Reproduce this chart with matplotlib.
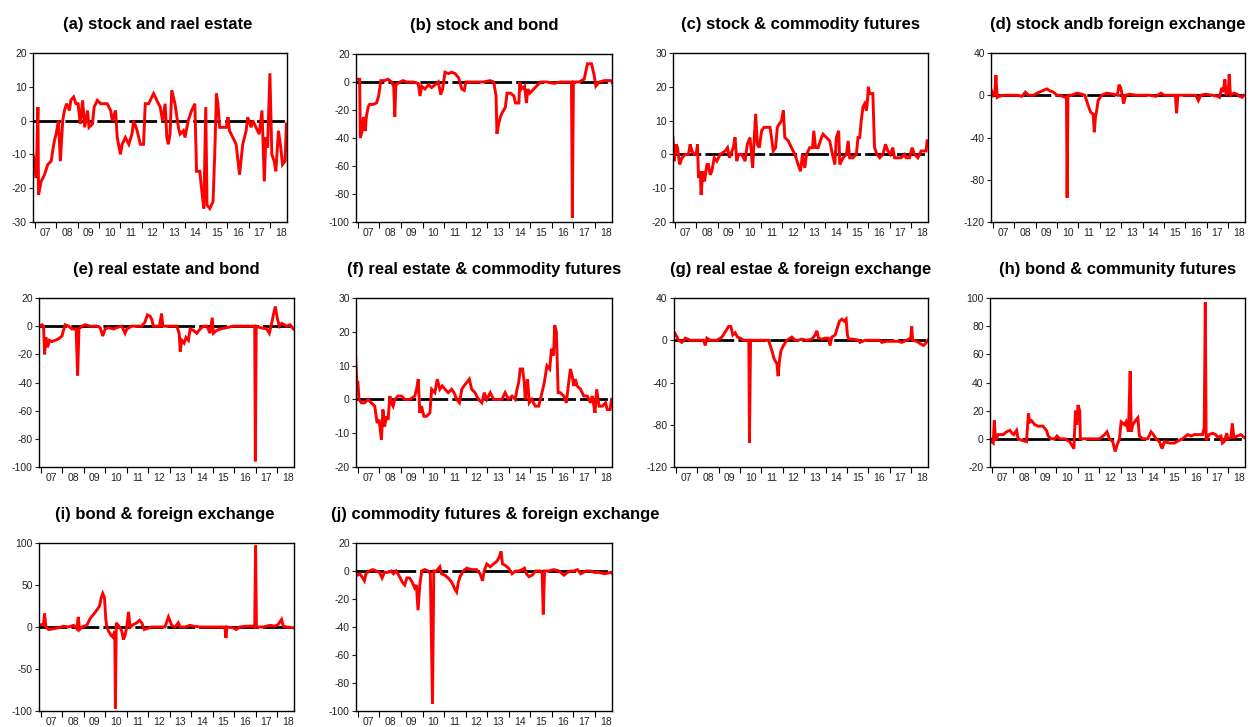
import matplotlib
matplotlib.use("Agg")
import matplotlib.pyplot as plt
from matplotlib.ticker import FixedLocator, NullFormatter, FixedFormatter

plt.rcParams['font.family'] = ['Liberation Sans', 'DejaVu Sans']
plt.rcParams['axes.unicode_minus'] = False

# ---------------- data (decimal years, values) ----------------
t_a = [2006.91, 2006.98, 2007.06, 2007.14, 2007.17, 2007.29, 2007.45, 2007.60, 2007.76, 2007.83, 2007.91, 2007.99,
       2008.10, 2008.19, 2008.30, 2008.38, 2008.48, 2008.61, 2008.68, 2008.81, 2008.92, 2009.02, 2009.12, 2009.23,
       2009.33, 2009.46, 2009.53, 2009.69, 2009.77, 2009.92, 2010.08, 2010.23, 2010.38, 2010.54, 2010.62, 2010.77,
       2010.85, 2011.00, 2011.08, 2011.23, 2011.39, 2011.54, 2011.62, 2011.78, 2011.93, 2012.08, 2012.16, 2012.32,
       2012.47, 2012.55, 2012.70, 2012.86, 2012.97, 2013.09, 2013.17, 2013.24, 2013.32, 2013.40, 2013.55, 2013.71,
       2013.79, 2013.94, 2014.02, 2014.17, 2014.33, 2014.48, 2014.56, 2014.71, 2014.79, 2014.90, 2014.99, 2015.05,
       2015.18, 2015.33, 2015.41, 2015.49, 2015.56, 2015.64, 2015.79, 2015.95, 2016.03, 2016.10, 2016.26, 2016.41,
       2016.57, 2016.72, 2016.88, 2016.95, 2017.11, 2017.19, 2017.34, 2017.49, 2017.62, 2017.73, 2017.80, 2017.88,
       2017.99, 2018.08, 2018.19, 2018.27, 2018.39, 2018.50, 2018.58, 2018.70, 2018.76]
v_a = [-10, -12, -17, 4, -22, -18, -16, -13, -12, -9, -6, -4,
       0, -12, 0, 3, 5, 3, 6, 7, 5, 5, -1, 6,
       -2, 3, -2, -1, 4, 6, 5, 5, 5, 3, 0, 3,
       -5, -10, -7, -5, -7, -4, 0, -3, -7, -7, 5, 5,
       7, 8, 6, 4, 0, 5, -5, -7, -4, 9, 5, -2,
       -4, -3, -5, 0, 3, 5, -15, -15, -20, -26, 4, -25,
       -26, -24, -10, 8, 5, -2, -2, -2, 1, -3, -5, -7,
       -16, -7, -3, 1, -2, 0, -2, -4, 3, -18, -5, -8,
       14, -10, -12, -15, -3, -8, -13, -12, -1]

t_b = [2006.89, 2007.08, 2007.11, 2007.19, 2007.26, 2007.34, 2007.39, 2007.47, 2007.54, 2007.70, 2007.86, 2007.96,
       2008.06, 2008.24, 2008.40, 2008.56, 2008.66, 2008.71, 2008.76, 2008.94, 2009.10, 2009.26, 2009.57, 2009.80,
       2009.88, 2009.96, 2010.11, 2010.27, 2010.42, 2010.58, 2010.73, 2010.84, 2010.93, 2011.04, 2011.20, 2011.35,
       2011.51, 2011.67, 2011.82, 2011.93, 2012.01, 2012.21, 2012.52, 2012.83, 2013.14, 2013.30, 2013.41, 2013.45,
       2013.53, 2013.61, 2013.69, 2013.77, 2013.84, 2013.92, 2014.08, 2014.24, 2014.31, 2014.47, 2014.51, 2014.59,
       2014.73, 2014.82, 2014.88, 2014.98, 2015.16, 2015.35, 2015.48, 2015.79, 2016.10, 2016.41, 2016.91, 2016.95,
       2017.00, 2017.26, 2017.50, 2017.65, 2017.84, 2017.96, 2018.04, 2018.20, 2018.43, 2018.74, 2018.82]
v_b = [2, 2, -40, -35, -25, -35, -25, -18, -16, -16, -15, -10,
       1, 1, 2, 0, -3, -25, -2, 0, 1, 0, 0, -1,
       -10, -3, -5, -2, -4, -2, 0, -9, -5, 7, 6, 7,
       6, 3, -5, -6, 0, 0, 0, 0, 1, 0, -10, -37,
       -30, -25, -22, -20, -18, -8, -8, -10, -15, -15, 0, -5,
       -3, -15, -5, -8, -5, -2, 0, 0, -1, 0, 0, -97,
       0, 0, 2, 13, 13, 5, -3, 0, 1, 1, -1]

t_c = [2006.91, 2006.97, 2007.06, 2007.12, 2007.22, 2007.33, 2007.48, 2007.63, 2007.71, 2007.79, 2007.90, 2007.99,
       2008.05, 2008.10, 2008.18, 2008.22, 2008.30, 2008.38, 2008.49, 2008.56, 2008.64, 2008.72, 2008.83, 2008.95,
       2009.11, 2009.34, 2009.45, 2009.54, 2009.72, 2009.80, 2009.88, 2009.96, 2010.11, 2010.27, 2010.37, 2010.50,
       2010.62, 2010.68, 2010.76, 2010.84, 2010.93, 2011.04, 2011.15, 2011.27, 2011.43, 2011.50, 2011.58, 2011.69,
       2011.77, 2011.86, 2011.97, 2012.05, 2012.12, 2012.28, 2012.43, 2012.59, 2012.74, 2012.85, 2012.94, 2013.05,
       2013.13, 2013.28, 2013.41, 2013.47, 2013.55, 2013.67, 2013.83, 2013.90, 2014.06, 2014.21, 2014.34, 2014.45,
       2014.52, 2014.63, 2014.68, 2014.83, 2014.99, 2015.07, 2015.14, 2015.29, 2015.45, 2015.53, 2015.61, 2015.68,
       2015.76, 2015.84, 2015.92, 2015.96, 2016.01, 2016.07, 2016.15, 2016.22, 2016.30, 2016.41, 2016.54, 2016.69,
       2016.81, 2016.92, 2017.03, 2017.15, 2017.23, 2017.39, 2017.54, 2017.70, 2017.77, 2017.93, 2018.05, 2018.16,
       2018.32, 2018.47, 2018.63, 2018.70, 2018.75]
v_c = [5, -2, 3, 2, -3, -1, 0, 0, 3, 1, 0, 0,
       3, -7, -5, -12, -5, -8, -3, -3, -6, -5, -1, -2,
       0, 1, 2, -1, 2, 5, -2, 0, 0, -2, 3, 5,
       -4, 3, 12, 3, 2, 7, 8, 8, 8, 5, 1, 2,
       8, 9, 10, 13, 5, 4, 2, 0, -3, -5, 0, -4,
       0, 2, 2, 7, 2, 2, 5, 6, 5, 4, 0, -3,
       5, 7, -3, -1, 0, 4, -1, -1, 0, 5, 5, 10,
       14, 15, 13, 15, 20, 18, 18, 18, 2, 0, -1, 0,
       3, 1, 0, 2, -1, -1, -1, 0, -1, -1, 2, 0,
       -1, 1, 1, 1, 4]

t_d = [2006.92, 2007.02, 2007.09, 2007.14, 2007.20, 2007.28, 2007.51, 2007.82, 2008.13, 2008.36, 2008.52, 2008.67,
       2008.90, 2009.06, 2009.29, 2009.52, 2009.68, 2009.83, 2009.99, 2010.14, 2010.37, 2010.44, 2010.47, 2010.51,
       2010.68, 2010.92, 2011.15, 2011.30, 2011.46, 2011.57, 2011.69, 2011.74, 2011.80, 2011.85, 2011.92, 2012.08,
       2012.31, 2012.62, 2012.82, 2012.90, 2012.98, 2013.05, 2013.11, 2013.21, 2013.39, 2013.70, 2014.01, 2014.32,
       2014.63, 2014.86, 2015.02, 2015.25, 2015.53, 2015.59, 2015.65, 2015.87, 2016.18, 2016.49, 2016.61, 2016.72,
       2016.95, 2017.26, 2017.50, 2017.60, 2017.70, 2017.77, 2017.85, 2017.91, 2018.01, 2018.05, 2018.11, 2018.27,
       2018.42, 2018.53, 2018.66, 2018.73]
v_d = [5, 0, 2, 19, -2, -1, 0, 0, 0, -1, 3, 0,
       0, 2, 4, 6, 4, 3, 0, 0, -2, -2, -97, 0,
       0, 2, 1, 0, -10, -16, -18, -35, -20, -15, -5, 0,
       2, 1, 0, 10, 7, 0, -8, 0, 1, 0, 0, 0,
       -1, 2, 0, 0, 0, -17, 0, 0, 0, 0, -5, 0,
       1, 0, -1, -2, 7, 3, 15, 0, 3, 20, 0, 2,
       1, -1, -2, 0]

t_e = [2006.92, 2007.05, 2007.12, 2007.17, 2007.23, 2007.31, 2007.40, 2007.51, 2007.67, 2007.82, 2007.98, 2008.05,
       2008.13, 2008.29, 2008.44, 2008.64, 2008.71, 2008.77, 2008.91, 2009.06, 2009.29, 2009.60, 2009.76, 2009.88,
       2009.99, 2010.15, 2010.38, 2010.53, 2010.77, 2010.92, 2011.00, 2011.23, 2011.47, 2011.70, 2011.85, 2011.96,
       2012.09, 2012.16, 2012.24, 2012.40, 2012.52, 2012.62, 2012.68, 2012.86, 2013.17, 2013.33, 2013.44, 2013.49,
       2013.56, 2013.67, 2013.76, 2013.87, 2013.95, 2014.10, 2014.26, 2014.42, 2014.57, 2014.73, 2014.88, 2014.98,
       2015.04, 2015.19, 2015.35, 2015.66, 2015.97, 2016.28, 2016.59, 2016.90, 2016.96, 2016.99, 2017.03, 2017.21,
       2017.52, 2017.64, 2017.75, 2017.83, 2017.92, 2018.02, 2018.11, 2018.22, 2018.45, 2018.61, 2018.76]
v_e = [0, 1, 0, -20, -8, -15, -10, -11, -10, -9, -7, -3,
       1, 0, -2, -2, -35, -2, 0, 1, 0, 0, -1, -7,
       -2, -1, -2, -1, 0, -5, -2, 0, 0, 0, 3, 8,
       7, 5, 0, 0, 0, 9, 0, 0, 0, 0, -5, -18,
       -10, -12, -8, -10, -2, -3, -5, -2, 0, 0, -5, 6,
       -5, -3, -2, -1, 0, 0, 0, 0, -1, -96, 0, -1,
       -2, -5, 2, 8, 14, 5, 0, 2, 0, 1, -2]

t_f = [2006.89, 2006.95, 2007.00, 2007.05, 2007.16, 2007.31, 2007.47, 2007.62, 2007.78, 2007.89, 2007.98, 2008.09,
       2008.16, 2008.24, 2008.32, 2008.40, 2008.48, 2008.55, 2008.63, 2008.71, 2008.86, 2009.02, 2009.17, 2009.41,
       2009.64, 2009.72, 2009.80, 2009.87, 2009.95, 2010.06, 2010.18, 2010.34, 2010.42, 2010.57, 2010.68, 2010.80,
       2010.91, 2011.04, 2011.19, 2011.35, 2011.46, 2011.58, 2011.71, 2011.82, 2011.92, 2012.05, 2012.17, 2012.28,
       2012.43, 2012.59, 2012.75, 2012.86, 2012.98, 2013.14, 2013.29, 2013.52, 2013.68, 2013.83, 2013.99, 2014.15,
       2014.30, 2014.38, 2014.46, 2014.53, 2014.64, 2014.72, 2014.76, 2014.87, 2014.95, 2015.07, 2015.23, 2015.39,
       2015.54, 2015.65, 2015.77, 2015.90, 2015.98, 2016.08, 2016.13, 2016.21, 2016.29, 2016.39, 2016.55, 2016.67,
       2016.78, 2016.86, 2016.94, 2017.02, 2017.09, 2017.17, 2017.33, 2017.48, 2017.64, 2017.79, 2017.87, 2017.95,
       2018.00, 2018.08, 2018.19, 2018.34, 2018.49, 2018.57, 2018.70, 2018.77]
v_f = [13, 5, 5, 0, -1, -1, 0, -1, -2, -7, -6, -12,
       -3, -8, -5, -6, 1, -1, -2, 0, 1, 1, 0, 0,
       1, 3, 6, -4, -2, -5, -5, -4, 3, 2, 6, 3,
       4, 3, 2, 3, 2, 0, -1, 3, 4, 5, 6, 3,
       2, 0, -1, 2, 0, 2, 0, 0, 0, 2, 0, 1,
       0, 3, 5, 9, 9, 5, 0, 6, -1, 0, -2, -2,
       2, 5, 10, 9, 15, 13, 22, 20, 2, 2, 1, -1,
       5, 9, 7, 4, 6, 4, 3, 1, 1, -1, 1, -2,
       -4, 3, -2, -2, -1, -3, -3, 0]

t_g = [2006.94, 2007.05, 2007.12, 2007.28, 2007.44, 2007.67, 2007.98, 2008.29, 2008.37, 2008.45, 2008.60, 2008.92,
       2009.15, 2009.31, 2009.46, 2009.57, 2009.66, 2009.77, 2009.88, 2010.01, 2010.16, 2010.32, 2010.41, 2010.44,
       2010.49, 2010.71, 2010.94, 2011.17, 2011.33, 2011.49, 2011.60, 2011.72, 2011.78, 2011.84, 2011.91, 2012.03,
       2012.19, 2012.42, 2012.58, 2012.73, 2012.89, 2013.12, 2013.36, 2013.51, 2013.59, 2013.67, 2013.82, 2013.98,
       2014.13, 2014.21, 2014.29, 2014.45, 2014.52, 2014.65, 2014.76, 2014.87, 2014.96, 2015.02, 2015.08, 2015.30,
       2015.54, 2015.61, 2015.85, 2016.24, 2016.55, 2016.63, 2016.86, 2017.17, 2017.40, 2017.56, 2017.79, 2017.98,
       2018.03, 2018.07, 2018.26, 2018.41, 2018.57, 2018.68, 2018.78]
v_g = [7, 3, 0, -2, 2, 0, 0, 0, -5, 2, 0, 0,
       3, 8, 13, 13, 5, 7, 3, 2, 0, 0, 0, -97,
       0, 0, 0, 0, 0, -10, -18, -22, -34, -20, -10, -5,
       0, 3, 0, 0, 1, 0, 1, 5, 9, 2, 1, 2,
       2, -5, 3, 5, 10, 18, 20, 18, 20, 5, 1, 1,
       0, -2, 0, 0, 0, -2, -1, -1, -1, -2, 0, 2,
       13, 0, -1, -3, -5, -3, 0]

t_h = [2006.91, 2006.98, 2007.06, 2007.11, 2007.17, 2007.29, 2007.53, 2007.68, 2007.84, 2007.94, 2008.02, 2008.15,
       2008.22, 2008.38, 2008.61, 2008.70, 2008.76, 2008.84, 2009.00, 2009.15, 2009.38, 2009.54, 2009.62, 2009.77,
       2009.93, 2010.03, 2010.16, 2010.39, 2010.62, 2010.82, 2010.89, 2010.95, 2011.01, 2011.09, 2011.12, 2011.40,
       2011.71, 2012.02, 2012.25, 2012.36, 2012.48, 2012.63, 2012.74, 2012.84, 2012.94, 2013.02, 2013.18, 2013.25,
       2013.36, 2013.44, 2013.49, 2013.56, 2013.69, 2013.80, 2013.87, 2014.03, 2014.26, 2014.41, 2014.52, 2014.65,
       2014.80, 2014.93, 2015.03, 2015.27, 2015.50, 2015.73, 2015.88, 2016.12, 2016.27, 2016.43, 2016.81, 2016.89,
       2016.94, 2016.98, 2017.12, 2017.28, 2017.43, 2017.51, 2017.67, 2017.74, 2017.82, 2017.94, 2018.00, 2018.13,
       2018.20, 2018.27, 2018.44, 2018.59, 2018.75]
v_h = [0, -2, -3, 13, -1, 3, 3, 5, 6, 4, 3, 6,
       0, -1, -2, 18, 12, 13, 10, 9, 9, 6, 2, 0,
       0, 2, 0, 0, -2, -7, 20, 10, 24, 20, 0, 0,
       0, 0, 3, 5, 0, -2, -9, -4, 0, 12, 10, 12,
       5, 48, 5, 10, 13, 15, 2, 0, 0, 5, 3, 0,
       -2, -7, -2, -3, -3, -1, 0, 3, 2, 3, 3, 8,
       97, -1, 3, 4, 3, 1, 2, -3, -2, 4, 0, 1,
       11, 1, 2, 3, 1]

t_i = [2006.92, 2007.05, 2007.12, 2007.17, 2007.23, 2007.36, 2007.59, 2007.82, 2008.05, 2008.29, 2008.52, 2008.67,
       2008.74, 2008.80, 2008.91, 2009.14, 2009.29, 2009.45, 2009.60, 2009.73, 2009.81, 2009.88, 2009.96, 2010.02,
       2010.07, 2010.15, 2010.27, 2010.35, 2010.44, 2010.47, 2010.51, 2010.66, 2010.77, 2010.84, 2010.92, 2011.00,
       2011.08, 2011.16, 2011.31, 2011.47, 2011.59, 2011.70, 2011.81, 2011.93, 2012.16, 2012.47, 2012.78, 2012.94,
       2013.02, 2013.09, 2013.25, 2013.40, 2013.48, 2013.71, 2013.95, 2014.10, 2014.41, 2014.88, 2015.34, 2015.57,
       2015.62, 2015.67, 2015.95, 2016.10, 2016.26, 2016.57, 2016.88, 2016.96, 2017.00, 2017.04, 2017.36, 2017.67,
       2017.90, 2018.05, 2018.21, 2018.29, 2018.44, 2018.78]
v_i = [2, 3, 3, 16, 0, -3, -2, -1, 1, 0, 2, -2,
       12, -3, 0, 2, 10, 15, 20, 25, 35, 40, 35, 10,
       0, -5, -10, -12, -5, -97, 5, 0, -5, -15, -10, 0,
       18, 0, 3, 5, 8, 5, -3, -2, 0, 0, 0, 12,
       7, 2, 0, 5, 0, 0, 2, 1, 0, 0, 0, 0,
       -13, 0, -1, -3, 0, 1, 1, 0, 97, 0, 0, 2,
       1, 3, 9, 1, 0, -1]

t_j = [2006.86, 2006.98, 2007.09, 2007.22, 2007.30, 2007.37, 2007.53, 2007.69, 2007.84, 2008.00, 2008.12, 2008.23,
       2008.39, 2008.54, 2008.65, 2008.78, 2008.93, 2009.06, 2009.17, 2009.27, 2009.40, 2009.52, 2009.63, 2009.71,
       2009.79, 2009.87, 2009.96, 2010.10, 2010.26, 2010.36, 2010.46, 2010.52, 2010.64, 2010.80, 2010.88, 2011.03,
       2011.19, 2011.35, 2011.50, 2011.58, 2011.66, 2011.74, 2011.89, 2012.05, 2012.28, 2012.51, 2012.67, 2012.78,
       2012.86, 2012.98, 2013.14, 2013.29, 2013.45, 2013.56, 2013.64, 2013.71, 2013.84, 2013.99, 2014.15, 2014.31,
       2014.46, 2014.62, 2014.73, 2014.82, 2014.93, 2015.08, 2015.24, 2015.47, 2015.55, 2015.60, 2015.66, 2015.86,
       2016.09, 2016.33, 2016.56, 2016.72, 2016.88, 2017.03, 2017.19, 2017.34, 2017.58, 2017.81, 2017.97, 2018.20,
       2018.43, 2018.74, 2018.82]
v_j = [-2, -3, -2, -5, -7, -2, 0, 1, 0, -1, -5, -1,
       -1, 0, -2, 0, -4, -8, -10, -5, -5, -8, -12, -10,
       -28, -10, 0, 1, 0, -2, -95, 0, 0, 3, -2, -3,
       -5, -8, -13, -15, -8, -4, 0, 2, 1, 1, -2, -7,
       0, 5, 3, 5, 7, 10, 14, 5, 4, 2, -2, 0,
       0, 1, 2, -2, -4, -3, 0, 0, -2, -31, 0, 0,
       1, 0, -3, -1, 0, 0, 1, -2, 0, 0, -1, -1,
       -2, -1, -2]

titles = ["(a) stock and rael estate", "(b) stock and bond", "(c) stock & commodity futures",
          "(d) stock andb foreign exchange", "(e) real estate and bond", "(f) real estate & commodity futures",
          "(g) real estae & foreign exchange", "(h) bond & community futures", "(i) bond & foreign exchange",
          "(j) commodity futures & foreign exchange"]
year_ticks = list(range(2007, 2019))
year_labels = ["07", "08", "09", "10", "11", "12", "13", "14", "15", "16", "17", "18"]

y_ranges = [(-30, 20, 10), (-100, 20, 20), (-20, 30, 10), (-120, 40, 40), (-100, 20, 20),
            (-20, 30, 10), (-120, 40, 40), (-20, 100, 20), (-100, 100, 50), (-100, 20, 20)]

series = [(t_a, v_a), (t_b, v_b), (t_c, v_c), (t_d, v_d), (t_e, v_e),
          (t_f, v_f), (t_g, v_g), (t_h, v_h), (t_i, v_i), (t_j, v_j)]

# axes boxes in pixels: left, right, top, bottom
W, H = 1258, 727
boxes = [(33, 287, 53, 222), (356, 612, 54, 222), (673, 928, 53, 222), (991, 1245, 53, 222),
         (39, 294, 298, 467), (356, 612, 298, 467), (674, 928, 298, 467), (990, 1245, 298, 467),
         (39, 294, 543, 711), (356, 612, 543, 711)]
# horizontal title offsets in pixels
title_dx = [-2, 0, 0, 0, 0, 0, 0, 0, -2, 11]

fig = plt.figure(figsize=(W / 100, H / 100), dpi=100)
fig.patch.set_facecolor("white")

for k in range(10):
    l, r, t, b = boxes[k]
    ax = fig.add_axes([l / W, 1 - b / H, (r - l) / W, (b - t) / H])
    tt, vv = series[k]
    ax.axhline(0, color="black", lw=2.0, ls=(0, (10, 1.5)), zorder=1)
    ax.plot(tt, vv, color="#ff0000", lw=2.1, zorder=2, solid_joinstyle="miter")
    ax.set_xlim(2006.91, 2018.79)
    lo, hi, st = y_ranges[k]
    ax.set_ylim(lo, hi)
    ax.set_yticks(list(range(lo, hi + 1, st)))
    ax.tick_params(axis="y", direction="out", length=3, width=0.8, labelsize=7.5, pad=1.5, colors="#222222")
    ax.xaxis.set_major_locator(FixedLocator(year_ticks))
    ax.xaxis.set_major_formatter(NullFormatter())
    ax.xaxis.set_minor_locator(FixedLocator([y + 0.5 for y in year_ticks]))
    ax.xaxis.set_minor_formatter(FixedFormatter(year_labels))
    ax.tick_params(axis="x", which="major", direction="out", length=4, width=0.8)
    ax.tick_params(axis="x", which="minor", length=0, labelsize=7.5, pad=4, colors="#222222")
    for s in ax.spines.values():
        s.set_linewidth(1.0)
    ttl = ax.set_title(titles[k], fontsize=12, fontweight="bold", pad=17)
    ttl.set_x(0.5 + title_dx[k] / (r - l))

fig.savefig("out.png", dpi=100)
